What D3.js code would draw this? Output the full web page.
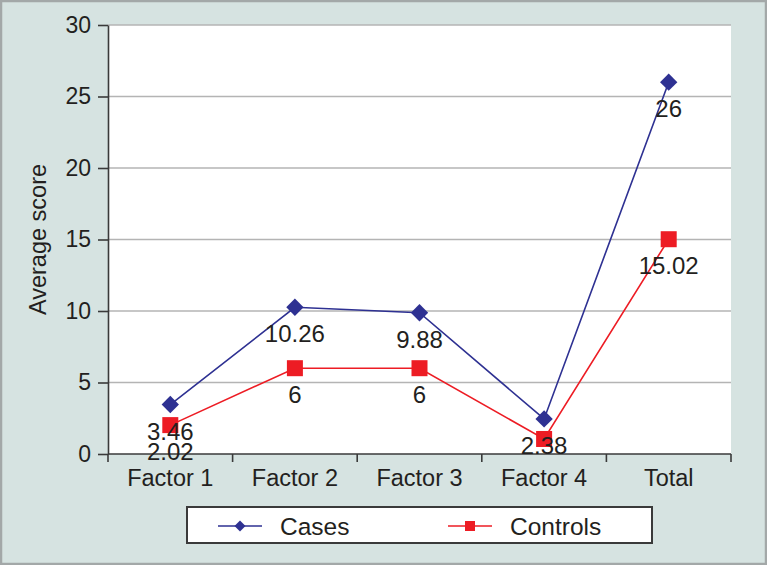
<!DOCTYPE html>
<html>
<head>
<meta charset="utf-8">
<script src="https://cdn.jsdelivr.net/npm/d3@7"></script>
<style>
html,body{margin:0;padding:0;background:#fff;}
svg{display:block;font-family:"Liberation Sans",Arial,Helvetica,sans-serif;}
</style>
</head>
<body>
<svg id="chart" width="767" height="565"></svg>
<script>
const categories = ["Factor 1", "Factor 2", "Factor 3", "Factor 4", "Total"];
const casesValues = [3.46, 10.26, 9.88, 2.45, 26];
const controlsValues = [2.02, 6, 6, 1.05, 15.02];
const casesLabels = ["3.46", "10.26", "9.88", "2.38", "26"];
const controlsLabels = ["2.02", "6", "6", null, "15.02"];
const yTicks = [0, 5, 10, 15, 20, 25, 30];
const seriesNames = ["Cases", "Controls"];

const W = 767, H = 565;
const margin = {left: 108, right: 36, top: 25, bottom: 111};
const svg = d3.select("#chart");

// background + frame
svg.append("rect").attr("x", 1).attr("y", 1).attr("width", W - 2).attr("height", H - 2)
  .attr("fill", "#d6e3e1").attr("stroke", "#a3a8a8").attr("stroke-width", 2.5);

const x = d3.scaleBand().domain(categories).range([margin.left, W - margin.right]).padding(0);
const y = d3.scaleLinear().domain([0, 30]).range([H - margin.bottom, margin.top]);

// plot area
svg.append("rect").attr("x", x.range()[0]).attr("y", y(30))
  .attr("width", x.range()[1] - x.range()[0]).attr("height", y(0) - y(30))
  .attr("fill", "#ffffff");

// gridlines
svg.append("g").selectAll("line").data(yTicks.filter(d => d > 0)).join("line")
  .attr("x1", x.range()[0]).attr("x2", x.range()[1])
  .attr("y1", d => y(d)).attr("y2", d => y(d))
  .attr("stroke", "#b4b4b4").attr("stroke-width", 1.5);

// y axis
const yAxis = d3.axisLeft(y).tickValues(yTicks).tickSize(10).tickPadding(7).tickSizeOuter(0);
const gy = svg.append("g").attr("transform", `translate(${x.range()[0]},0)`).call(yAxis);
gy.select(".domain").attr("stroke", "#3a3a3a").attr("stroke-width", 1.6);
gy.selectAll(".tick line").attr("stroke", "#3a3a3a").attr("stroke-width", 1.6);
gy.selectAll(".tick text").attr("font-size", 23).attr("fill", "#231f20")
  .attr("font-family", "Liberation Sans, Arial, sans-serif");

// x axis: line + boundary ticks
const gx = svg.append("g");
gx.append("line").attr("x1", x.range()[0]).attr("x2", x.range()[1])
  .attr("y1", y(0)).attr("y2", y(0)).attr("stroke", "#3a3a3a").attr("stroke-width", 1.6);
const bounds = categories.map(c => x(c)).concat([x.range()[1]]);
gx.selectAll("line.bt").data(bounds).join("line").attr("class", "bt")
  .attr("x1", d => d).attr("x2", d => d).attr("y1", y(0)).attr("y2", y(0) + 8)
  .attr("stroke", "#3a3a3a").attr("stroke-width", 1.6);
gx.selectAll("text").data(categories).join("text")
  .attr("x", d => x(d) + x.bandwidth() / 2).attr("y", y(0) + 32)
  .attr("text-anchor", "middle").attr("font-size", 23.5).attr("fill", "#231f20")
  .text(d => d);

// y label
svg.append("text").attr("transform", `translate(46,${(y(0) + y(30)) / 2}) rotate(-90)`)
  .attr("text-anchor", "middle").attr("font-size", 23.5).attr("fill", "#231f20")
  .text("Average score");

const cx = d => x(d) + x.bandwidth() / 2;
const line = d3.line().x(d => cx(d.c)).y(d => y(d.v));
const casesData = categories.map((c, i) => ({c, v: casesValues[i], l: casesLabels[i]}));
const controlsData = categories.map((c, i) => ({c, v: controlsValues[i], l: controlsLabels[i]}));

const blue = "#2e3192", red = "#ed1c24";

svg.append("path").datum(casesData).attr("d", line).attr("fill", "none")
  .attr("stroke", blue).attr("stroke-width", 1.6);
svg.append("path").datum(controlsData).attr("d", line).attr("fill", "none")
  .attr("stroke", red).attr("stroke-width", 1.6);

const diamond = d3.symbol().type(d3.symbolSquare).size(150);
svg.append("g").selectAll("path").data(casesData).join("path")
  .attr("d", diamond).attr("fill", blue)
  .attr("transform", d => `translate(${cx(d.c)},${y(d.v)}) rotate(45)`);
svg.append("g").selectAll("rect").data(controlsData).join("rect")
  .attr("x", d => cx(d.c) - 8).attr("y", d => y(d.v) - 8)
  .attr("width", 16).attr("height", 16).attr("fill", red);

// data labels
const lab = svg.append("g").attr("font-size", 24).attr("fill", "#231f20").attr("text-anchor", "middle");
lab.selectAll("text.c").data(casesData.filter(d => d.l)).join("text").attr("class", "c")
  .attr("x", d => cx(d.c)).attr("y", d => y(d.v) + 35).text(d => d.l);
lab.selectAll("text.k").data(controlsData.filter(d => d.l)).join("text").attr("class", "k")
  .attr("x", d => cx(d.c)).attr("y", d => y(d.v) + 35).text(d => d.l);

// legend
const lg = svg.append("g");
lg.append("rect").attr("x", 187).attr("y", 507).attr("width", 465).attr("height", 36)
  .attr("fill", "#fff").attr("stroke", "#3a3a3a").attr("stroke-width", 2);
const legendItems = [
  {name: seriesNames[0], color: blue, x0: 218, shape: "diamond"},
  {name: seriesNames[1], color: red, x0: 448, shape: "square"}
];
legendItems.forEach(it => {
  const ly = 526;
  lg.append("line").attr("x1", it.x0).attr("x2", it.x0 + 44).attr("y1", ly).attr("y2", ly)
    .attr("stroke", it.color).attr("stroke-width", 1.6);
  if (it.shape === "diamond") {
    lg.append("path").attr("d", d3.symbol().type(d3.symbolSquare).size(60)).attr("fill", it.color)
      .attr("transform", `translate(${it.x0 + 22},${ly}) rotate(45)`);
  } else {
    lg.append("rect").attr("x", it.x0 + 22 - 5).attr("y", ly - 5).attr("width", 10).attr("height", 10)
      .attr("fill", it.color);
  }
  lg.append("text").attr("x", it.x0 + 62).attr("y", ly + 9).attr("font-size", 24.5)
    .attr("fill", "#231f20").text(it.name);
});
</script>
</body>
</html>
